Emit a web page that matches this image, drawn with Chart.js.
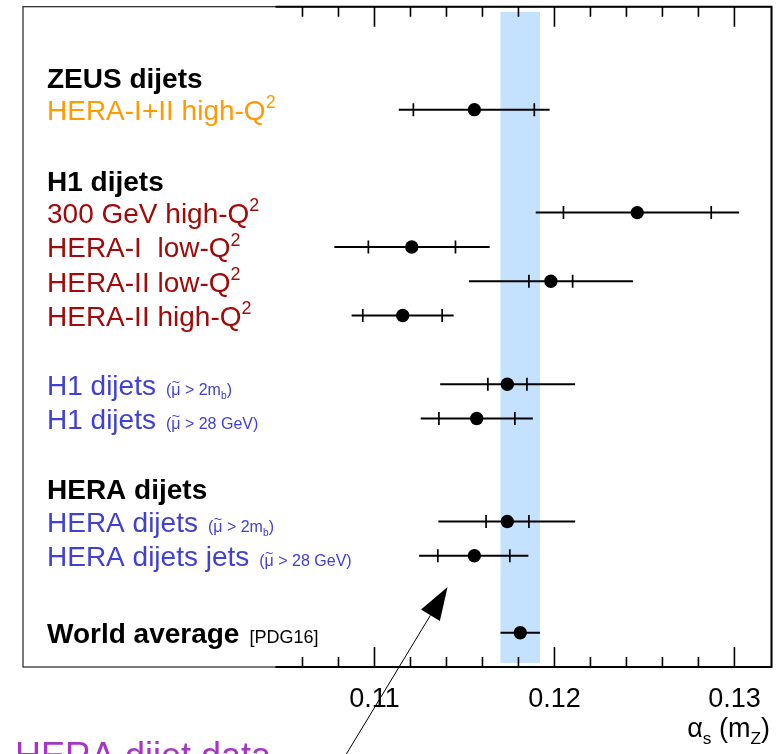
<!DOCTYPE html>
<html>
<head>
<meta charset="utf-8">
<script src="https://cdn.jsdelivr.net/npm/chart.js@4.4.1/dist/chart.umd.min.js"></script>
<style>
html, body { margin: 0; padding: 0; background: #fff; }
canvas { display: block; }
</style>
</head>
<body>
<canvas id="chart" width="782" height="754"></canvas>
<script>
// --- data ---
// row slots, counted from the top of the panel
const rowSlots = [2, 5, 6, 7, 8, 10, 11, 14, 15, 17.24];
// ^{..} superscript, _{..} subscript, ~{..} tilde accent, | starts the small note
const rowLabels = [
    'HERA-I+II high-Q^{2}',
    '300 GeV high-Q^{2}',
    'HERA-I  low-Q^{2}',
    'HERA-II low-Q^{2}',
    'HERA-II high-Q^{2}',
    'H1 dijets|(~{\u03bc} > 2m_{b})',
    'H1 dijets|(~{\u03bc} > 28 GeV)',
    'HERA dijets|(~{\u03bc} > 2m_{b})',
    'HERA dijets jets|(~{\u03bc} > 28 GeV)',
    'World average|[PDG16]'
];
const rowGroups = ['zeus', 'h1', 'h1', 'h1', 'h1', 'h1fit', 'h1fit', 'hera', 'hera', 'world'];
const centralValues = [0.11555, 0.1246, 0.11207, 0.1198, 0.11157, 0.11738, 0.11568, 0.11738, 0.11555, 0.1181];
// inner ticks (experimental) and outer ends (total) of the error bars
const innerLow  = [0.11216, 0.1205, 0.10966, 0.11858, 0.10935, 0.1163, 0.11358, 0.1162, 0.11352, null];
const innerHigh = [0.11888, 0.12871, 0.1145, 0.12101, 0.11376, 0.11847, 0.1178, 0.11858, 0.11752, null];
const outerLow  = [0.11135, 0.11896, 0.10777, 0.11525, 0.10873, 0.11365, 0.11257, 0.11355, 0.11248, 0.1170];
const outerHigh = [0.11973, 0.13026, 0.1164, 0.12436, 0.1144, 0.12115, 0.1188, 0.12115, 0.11855, 0.1192];

const headers = ['ZEUS dijets', 'H1 dijets', 'HERA dijets'];
const headerSlots = [1.05, 4.05, 13.05];

// world average band
const bandRange = [0.1170, 0.1192];
const bandSlots = [-0.85, 18.12];

// x axis
const axisStart = 0.1045;
const minorTicks = [0.106, 0.108, 0.112, 0.114, 0.116, 0.118, 0.122, 0.124, 0.126, 0.128];
const majorTicks = [0.11, 0.12, 0.13];
const majorLabels = ['0.11', '0.12', '0.13'];
const axisTitle = '\u03b1_{s} (m_{Z})';

// annotation arrow
const arrowTip = { x: 0.11406, y: 15.91 };
const arrowTail = { x: 0.1076, y: 21.5 };
const annotationText = 'HERA dijet data';

const FONT = '"Liberation Sans", Arial, Helvetica, sans-serif';
const groupColors = {
    zeus: '#ff9a00',
    h1: '#a00a0a',
    h1fit: '#4040d4',
    hera: '#4040d4',
    world: '#000000'
};

const RICH = /\^\{([^}]*)\}|_\{([^}]*)\}|~\{([^}]*)\}|[^^_~]+/g;

// draws text with ^{..}, _{..} and ~{..} parts, returns the end x
function drawRich(ctx, str, x, y, size, bold, measureOnly) {
    const re = new RegExp(RICH.source, 'g');
    let m;
    while ((m = re.exec(str)) !== null) {
        let txt = m[0], fs = size, dy = 0;
        if (m[1] !== undefined) { txt = m[1]; fs = size * 0.64; dy = -size * 0.42; }
        else if (m[2] !== undefined) { txt = m[2]; fs = size * 0.64; dy = size * 0.25; }
        else if (m[3] !== undefined) { txt = m[3]; }
        ctx.font = (bold ? 'bold ' : '') + fs + 'px ' + FONT;
        const w = ctx.measureText(txt).width;
        if (!measureOnly) {
            ctx.fillText(txt, x, y + dy);
            if (m[3] !== undefined) {
                // tilde accent over the symbol
                const align = ctx.textAlign;
                ctx.textAlign = 'center';
                ctx.font = (size * 0.9) + 'px ' + FONT;
                ctx.fillText('~', x + w / 2, y - size * 0.5);
                ctx.textAlign = align;
            }
        }
        x += w;
    }
    return x;
}

const panelPlugin = {
    id: 'panel',
    beforeDatasetsDraw(chart) {
        const ctx = chart.ctx;
        const xs = chart.scales.x, ys = chart.scales.y;
        const a = chart.chartArea;
        ctx.save();

        // world average band
        ctx.fillStyle = '#c4e1fd';
        const bx0 = xs.getPixelForValue(bandRange[0]), bx1 = xs.getPixelForValue(bandRange[1]);
        const by0 = ys.getPixelForValue(bandSlots[0]), by1 = ys.getPixelForValue(bandSlots[1]);
        ctx.fillRect(bx0, by0, bx1 - bx0, by1 - by0);

        // thin outer frame
        ctx.strokeStyle = '#222';
        ctx.lineWidth = 1.2;
        ctx.strokeRect(a.left, a.top, a.right - a.left, a.bottom - a.top);

        // axis lines (top, bottom, right)
        const ax0 = xs.getPixelForValue(axisStart);
        ctx.strokeStyle = '#000';
        ctx.lineWidth = 2;
        ctx.beginPath();
        ctx.moveTo(ax0, a.top); ctx.lineTo(a.right, a.top);
        ctx.lineTo(a.right, a.bottom); ctx.lineTo(ax0, a.bottom);
        ctx.stroke();

        // inward ticks on top and bottom
        ctx.lineWidth = 1.6;
        ctx.beginPath();
        minorTicks.forEach(v => {
            const px = xs.getPixelForValue(v);
            ctx.moveTo(px, a.top); ctx.lineTo(px, a.top + 10);
            ctx.moveTo(px, a.bottom); ctx.lineTo(px, a.bottom - 10);
        });
        majorTicks.forEach(v => {
            const px = xs.getPixelForValue(v);
            ctx.moveTo(px, a.top); ctx.lineTo(px, a.top + 20);
            ctx.moveTo(px, a.bottom); ctx.lineTo(px, a.bottom - 20);
        });
        ctx.stroke();

        // error bars
        ctx.strokeStyle = '#000';
        rowSlots.forEach((slot, i) => {
            const py = ys.getPixelForValue(slot);
            ctx.lineWidth = 2;
            ctx.beginPath();
            ctx.moveTo(xs.getPixelForValue(outerLow[i]), py);
            ctx.lineTo(xs.getPixelForValue(outerHigh[i]), py);
            ctx.stroke();
            if (innerLow[i] !== null) {
                ctx.lineWidth = 1.7;
                ctx.beginPath();
                [innerLow[i], innerHigh[i]].forEach(v => {
                    const px = xs.getPixelForValue(v);
                    ctx.moveTo(px, py - 6.5); ctx.lineTo(px, py + 6.5);
                });
                ctx.stroke();
            }
        });
        ctx.restore();
    },
    afterDatasetsDraw(chart) {
        const ctx = chart.ctx;
        const xs = chart.scales.x, ys = chart.scales.y;
        const a = chart.chartArea;
        const textX = a.left + 24;
        ctx.save();
        ctx.textBaseline = 'alphabetic';
        ctx.textAlign = 'left';

        // group headers
        ctx.fillStyle = '#000';
        headers.forEach((h, i) => {
            ctx.font = 'bold 28px ' + FONT;
            ctx.fillText(h, textX, ys.getPixelForValue(headerSlots[i]) + 10.5);
        });

        // row labels
        rowLabels.forEach((label, i) => {
            const g = rowGroups[i];
            const parts = label.split('|');
            const y = ys.getPixelForValue(rowSlots[i]) + 10.5;
            ctx.fillStyle = groupColors[g];
            const bold = g === 'world';
            const x = drawRich(ctx, parts[0], textX, y, 28, bold);
            if (parts[1]) {
                const small = g === 'world' ? 18 : 16;
                drawRich(ctx, parts[1], x + 10, y, small, false);
            }
        });

        // tick labels
        ctx.fillStyle = '#000';
        ctx.textAlign = 'center';
        ctx.font = '27px ' + FONT;
        majorTicks.forEach((v, i) => {
            ctx.fillText(majorLabels[i], xs.getPixelForValue(v), a.bottom + 40);
        });

        // axis title, right aligned
        ctx.textAlign = 'left';
        const tw = drawRich(ctx, axisTitle, 0, 0, 27, false, true);
        drawRich(ctx, axisTitle, 770 - tw, a.bottom + 70, 27, false);

        // arrow
        const tx = xs.getPixelForValue(arrowTip.x), ty = ys.getPixelForValue(arrowTip.y);
        const sx = xs.getPixelForValue(arrowTail.x), sy = ys.getPixelForValue(arrowTail.y);
        const len = Math.hypot(tx - sx, ty - sy);
        const ux = (tx - sx) / len, uy = (ty - sy) / len;
        const bx = tx - ux * 33, by = ty - uy * 33;
        ctx.strokeStyle = '#000';
        ctx.lineWidth = 1;
        ctx.beginPath();
        ctx.moveTo(sx, sy); ctx.lineTo(bx, by);
        ctx.stroke();
        ctx.fillStyle = '#000';
        ctx.beginPath();
        ctx.moveTo(tx, ty);
        ctx.lineTo(bx - uy * 11, by + ux * 11);
        ctx.lineTo(bx + uy * 11, by - ux * 11);
        ctx.closePath();
        ctx.fill();

        // annotation text (partly below the picture)
        ctx.fillStyle = '#a634c4';
        ctx.font = '36px ' + FONT;
        ctx.fillText(annotationText, a.left - 8, a.bottom + 101);
        ctx.restore();
    }
};

new Chart(document.getElementById('chart').getContext('2d'), {
    type: 'scatter',
    data: {
        datasets: [{
            label: 'alpha_s',
            data: centralValues.map((v, i) => ({ x: v, y: rowSlots[i] })),
            pointRadius: 6.7,
            pointHoverRadius: 6.7,
            pointBackgroundColor: '#000',
            pointBorderWidth: 0
        }]
    },
    options: {
        responsive: false,
        animation: false,
        devicePixelRatio: 1,
        layout: {
            padding: { left: 23, right: 10.5, top: 6, bottom: 87 }
        },
        scales: {
            x: { type: 'linear', min: 0.09047, max: 0.13206, display: false },
            y: { type: 'linear', min: -1, max: 18.24, reverse: true, display: false }
        },
        plugins: {
            legend: { display: false },
            tooltip: { enabled: false }
        }
    },
    plugins: [panelPlugin]
});
</script>
</body>
</html>
